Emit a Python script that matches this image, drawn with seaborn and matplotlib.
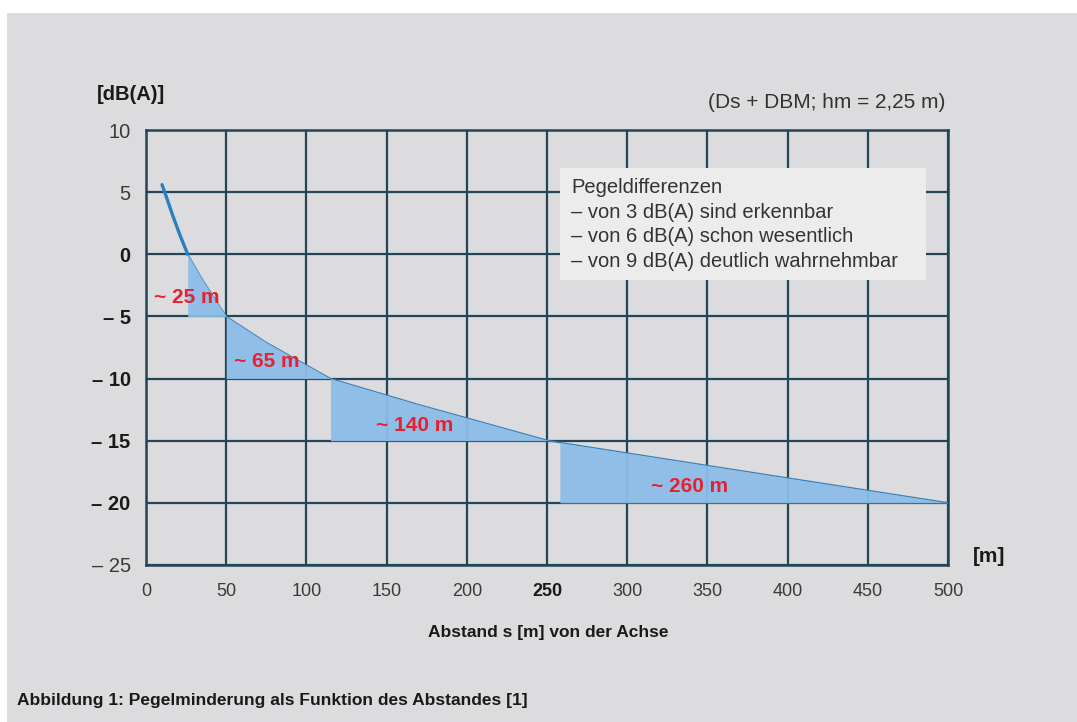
import numpy as np
import matplotlib
matplotlib.use("Agg")
import matplotlib.pyplot as plt
from matplotlib.patches import Rectangle
import seaborn as sns

# Pegelminderung (dB(A)) ueber Abstand s (m)
abstand = [10, 13, 17, 21, 26, 35, 50, 75, 115, 170, 251, 258, 375, 500, 515]
pegel = [5.6, 4.5, 3.0, 1.6, 0.0, -2.0, -5.0, -7.1, -10.0, -12.1, -15.0, -15.15, -17.5, -20.0, -20.2]

# Bereiche: Start, Ende, Grundlinie, Beschriftung, Position der Beschriftung
bereich_start = [26, 50, 115, 258]
bereich_ende = [50, 115, 251, 500]
bereich_basis = [-5, -10, -15, -20]
bereich_text = ["~ 25 m", "~ 65 m", "~ 140 m", "~ 260 m"]
text_x = [25.6, 75.4, 167.7, 339]
text_y = [-3.5, -8.6, -13.8, -18.7]

x_ticks = [0, 50, 100, 150, 200, 250, 300, 350, 400, 450, 500]
y_ticks = [10, 5, 0, -5, -10, -15, -20, -25]
y_labels = ["10", "5", "0", "– 5", "– 10", "– 15", "– 20", "– 25"]
y_bold = [0, -5, -10, -15, -20]

hinweis = ("Pegeldifferenzen\n– von 3 dB(A) sind erkennbar\n"
           "– von 6 dB(A) schon wesentlich\n– von 9 dB(A) deutlich wahrnehmbar")

grau = "#dcdcde"
gitter = "#234558"
schmal = ["Liberation Sans Narrow", "Liberation Sans"]

sns.set_theme(style="white")
plt.rcParams["font.family"] = ["Liberation Sans", "DejaVu Sans"]

fig = plt.figure(figsize=(10.77, 7.22), dpi=100, facecolor="white")
fig.patches.append(Rectangle((7 / 1077, 0), 1, 1 - 13 / 722, transform=fig.transFigure,
                             facecolor=grau, edgecolor="none", zorder=-10))
ax = fig.add_axes([146 / 1077, 157 / 722, 802 / 1077, 435 / 722])
ax.set_facecolor(grau)

s = np.array(abstand)
L = np.array(pegel)
sns.lineplot(x=s, y=L, ax=ax, color="#3a80b8", lw=1.1, zorder=4)
kopf = s <= 26
sns.lineplot(x=s[kopf], y=L[kopf], ax=ax, color="#2a7fc0", lw=2.4, zorder=4)
for a, b, base in zip(bereich_start, bereich_ende, bereich_basis):
    m = (s >= a) & (s <= b)
    ax.fill_between(s[m], L[m], base, color="#8cbde8", alpha=0.95, lw=0, zorder=5)
for t, tx, ty in zip(bereich_text, text_x, text_y):
    ax.text(tx, ty, t, color="#e8202e", fontsize=15, fontweight="bold",
            ha="center", va="center", zorder=6)

ax.set_xlim(0, 500)
ax.set_ylim(-25, 10)
ax.set_xticks(x_ticks)
ax.set_yticks(y_ticks)
ax.set_xticklabels([str(v) for v in x_ticks])
ax.set_yticklabels(y_labels)
ax.grid(True, color=gitter, lw=1.6)
ax.set_axisbelow(True)
for sp in ax.spines.values():
    sp.set_color(gitter)
    sp.set_linewidth(1.8)
ax.tick_params(length=0, colors="#3a3a3a")
ax.tick_params(axis="x", pad=13, labelsize=13)
ax.tick_params(axis="y", pad=11, labelsize=14.5)
for lab, v in zip(ax.get_yticklabels(), y_ticks):
    if v in y_bold:
        lab.set_fontweight("bold")
        lab.set_color("#1a1a1a")
for lab, v in zip(ax.get_xticklabels(), x_ticks):
    if v == 250:
        lab.set_fontweight("bold")
        lab.set_color("#1a1a1a")

# Hinweiskasten
ax.add_patch(Rectangle((258, -2.1), 228, 9.05, facecolor="#ececec", edgecolor="none", zorder=5))
ax.text(265, 6.1, hinweis, fontsize=14.5, color="#333333", ha="left", va="top",
        linespacing=1.36, zorder=6)

fig.text(97 / 1077, 1 - 94 / 722, "[dB(A)]", fontsize=14.5, fontweight="bold",
         color="#1a1a1a", ha="left", va="center")
fig.text(945 / 1077, 1 - 103 / 722, "(Ds + DBM; hm = 2,25 m)", fontsize=15,
         color="#333333", ha="right", va="center")
fig.text(973 / 1077, 1 - 556 / 722, "[m]", fontsize=15, fontweight="bold",
         color="#1a1a1a", ha="left", va="center")
fig.text(548 / 1077, 1 - 632 / 722, "Abstand s [m] von der Achse", fontsize=12.5,
         fontweight="bold", color="#1a1a1a", ha="center", va="center", family=schmal)
fig.text(17 / 1077, 1 - 701 / 722, "Abbildung 1: Pegelminderung als Funktion des Abstandes [1]",
         fontsize=12.5, fontweight="bold", color="#1a1a1a", ha="left", va="center",
         family=schmal)

fig.savefig("out.png", dpi=100, facecolor="white")
